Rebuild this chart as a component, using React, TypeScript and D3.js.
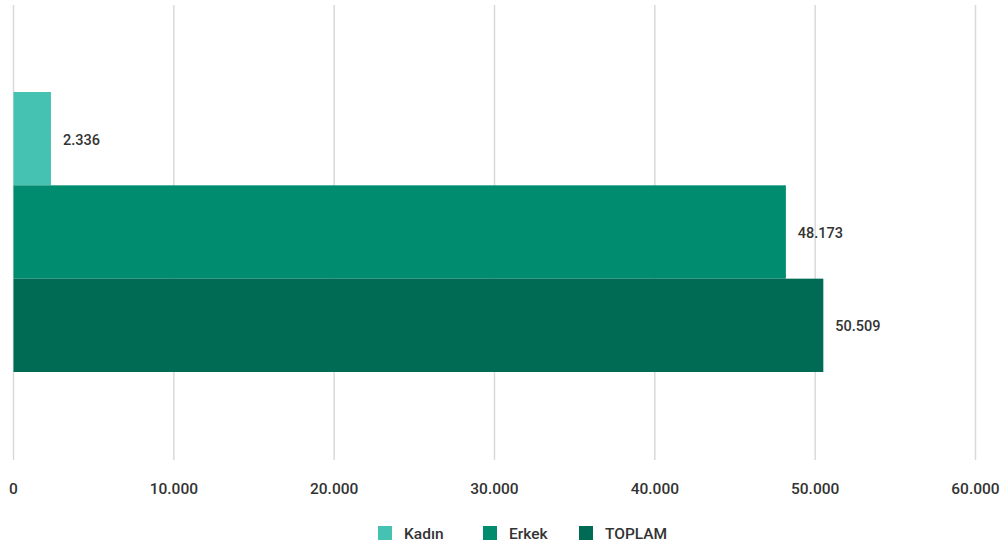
import React from "react";
import * as d3 from "d3";

const series = ["Kadın", "Erkek", "TOPLAM"];
const values = [2336, 48173, 50509];
const colors = ["#45c2b1", "#008c6f", "#006b55"];
const ticks = [0, 10000, 20000, 30000, 40000, 50000, 60000];

const W = 1006;
const H = 546;
const fmt = (v: number) => d3.format(",")(v).replace(/,/g, ".");
const FONT = "Roboto, 'Noto Sans', sans-serif";

export default function App() {
  const x = d3.scaleLinear().domain([0, 60000]).range([13.5, 975.5]);
  const y = d3.scaleBand<string>().domain(series).range([92, 372]).paddingInner(0);
  const legendX = [378, 483, 579];
  return (
    <svg width={W} height={H} style={{ position: "absolute", left: 0, top: 0, background: "#fff" }}>
      {ticks.map((t) => (
        <g key={t}>
          <line x1={x(t)} x2={x(t)} y1={5} y2={460} stroke="#d9d9d9" strokeWidth={1.5} />
          <text x={x(t)} y={494} textAnchor="middle" fontFamily={FONT} fontSize={15.5} fontWeight={500} fill="#333">
            {fmt(t)}
          </text>
        </g>
      ))}
      {series.map((s, i) => (
        <g key={s}>
          <rect x={x(0)} y={y(s)!} width={x(values[i]) - x(0)} height={y.bandwidth()} fill={colors[i]} />
          <text
            x={x(values[i]) + 12}
            y={y(s)! + y.bandwidth() / 2 + 6}
            fontFamily={FONT}
            fontSize={14.5}
            fontWeight={500}
            fill="#333"
          >
            {fmt(values[i])}
          </text>
        </g>
      ))}
      {series.map((s, i) => (
        <g key={"l" + s}>
          <rect x={legendX[i]} y={526} width={14} height={14} fill={colors[i]} />
          <text x={legendX[i] + 26} y={539} fontFamily={FONT} fontSize={15.5} fontWeight={500} fill="#333">
            {s}
          </text>
        </g>
      ))}
    </svg>
  );
}
